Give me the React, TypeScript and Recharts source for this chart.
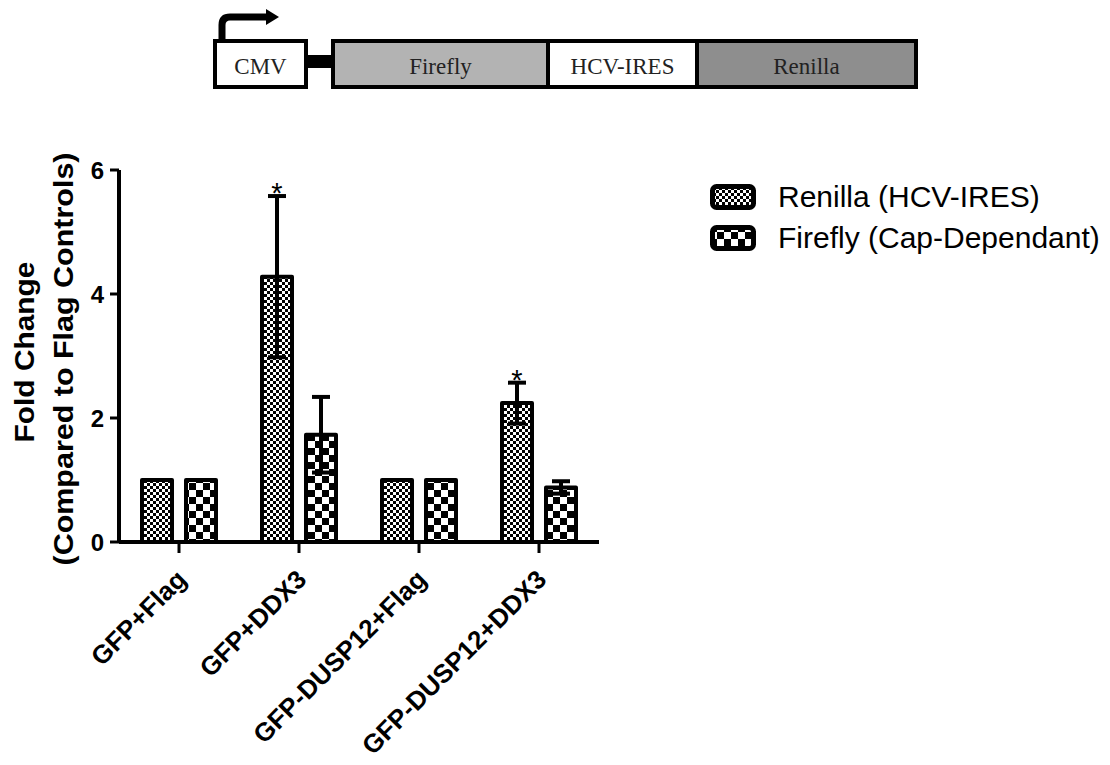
import React from 'react';
import { BarChart, Bar, XAxis, YAxis, ErrorBar, LabelList, Legend } from 'recharts';

const FONT = '"Liberation Sans", Arial, Helvetica, sans-serif';
const SERIF = '"Liberation Serif", "Times New Roman", serif';

// ---- data ----
const categories = ['GFP+Flag', 'GFP+DDX3', 'GFP-DUSP12+Flag', 'GFP-DUSP12+DDX3'];
const renilla = [1, 4.28, 1, 2.24];
const renillaErr = [0, 1.3, 0, 0.33];
const renillaSig = ['', '*', '', '*'];
const firefly = [1, 1.73, 1, 0.88];
const fireflyErr = [0, 0.61, 0, 0.1];
const yTicks = [0, 2, 4, 6];
const seriesNames = ['Renilla (HCV-IRES)', 'Firefly (Cap-Dependant)'];
const constructParts = ['CMV', 'Firefly', 'HCV-IRES', 'Renilla'];

const data = categories.map((name, i) => ({
  name,
  renilla: renilla[i],
  renillaErr: renillaErr[i],
  sig: renillaSig[i],
  firefly: firefly[i],
  fireflyErr: fireflyErr[i],
}));

const series = [
  { key: 'renilla', label: seriesNames[0], pattern: 'finePat' },
  { key: 'firefly', label: seriesNames[1], pattern: 'coarsePat' },
];

const Patterns = () => (
  <svg width={0} height={0} style={{ position: 'absolute' }}>
    <defs>
      <pattern id="finePat" patternUnits="userSpaceOnUse" width={6} height={6}>
        <rect x={0} y={0} width={6} height={6} fill="#fff" />
        <rect x={0} y={0} width={3} height={3} fill="#000" />
        <rect x={3} y={3} width={3} height={3} fill="#000" />
      </pattern>
      <pattern id="coarsePat" patternUnits="userSpaceOnUse" width={14} height={14}>
        <rect x={0} y={0} width={14} height={14} fill="#fff" />
        <rect x={0} y={0} width={7} height={7} fill="#000" />
        <rect x={7} y={7} width={7} height={7} fill="#000" />
      </pattern>
    </defs>
  </svg>
);

const StarLabel = (props: any) => {
  const { x, y, width, height, value, index } = props;
  const d = data[index];
  if (!d || !d.sig || !value) return null;
  const perUnit = Number(height) / Number(value);
  const top = Number(y) - d.renillaErr * perUnit;
  return (
    <text x={Number(x) + Number(width) / 2} y={top + 7} textAnchor="middle" fontSize={29} fontFamily={FONT} fill="#000">
      {d.sig}
    </text>
  );
};

const XTick = (props: any) => {
  const { x, y, payload } = props;
  const ax = x + 9;
  const ay = y + 26;
  return (
    <text x={ax} y={ay} transform={`rotate(-45, ${ax}, ${ay})`} textAnchor="end" fontSize={26} fontWeight="bold" fontFamily={FONT} fill="#000">
      {payload.value}
    </text>
  );
};

const YLabel = (props: any) => {
  const vb = props.viewBox || { x: 59, y: 170, width: 60, height: 372 };
  const cy = vb.y + vb.height / 2;
  const x1 = 34;
  const x2 = 73;
  return (
    <g>
      <text x={x1} y={cy - 4} transform={`rotate(-90, ${x1}, ${cy - 4})`} textAnchor="middle" fontSize={28} fontWeight="bold" fontFamily={FONT} fill="#000" textLength={181} lengthAdjust="spacingAndGlyphs">
        Fold Change
      </text>
      <text x={x2} y={cy + 3} transform={`rotate(-90, ${x2}, ${cy + 3})`} textAnchor="middle" fontSize={28} fontWeight="bold" fontFamily={FONT} fill="#000" textLength={413} lengthAdjust="spacingAndGlyphs">
        (Compared to Flag Controls)
      </text>
    </g>
  );
};

const LegendContent = () => (
  <div style={{ fontFamily: FONT, fontSize: 30, color: '#000' }}>
    {series.map((s) => (
      <div key={s.key} style={{ display: 'flex', alignItems: 'center', height: 41 }}>
        <svg width={46} height={26}>
          <rect x={2.5} y={2.5} width={41} height={21} rx={4} fill={`url(#${s.pattern})`} stroke="#000" strokeWidth={5} />
        </svg>
        <span style={{ marginLeft: 22, lineHeight: 1, whiteSpace: 'nowrap' }}>{s.label}</span>
      </div>
    ))}
  </div>
);

const Construct = () => {
  const boxes = [
    { x: 215, w: 91, fill: '#ffffff' },
    { x: 333, w: 215, fill: '#b3b3b3' },
    { x: 548, w: 149, fill: '#ffffff' },
    { x: 697, w: 219, fill: '#8e8e8e' },
  ];
  return (
    <svg width={1110} height={120} style={{ position: 'absolute', left: 0, top: 0, pointerEvents: 'none' }}>
      <path d="M222,40 V25 Q222,17 230,17 H268" stroke="#000" strokeWidth={7} fill="none" />
      <polygon points="266,9 279,17 266,25" fill="#000" />
      <rect x={306} y={55} width={28} height={13} fill="#000" />
      {boxes.map((b, i) => (
        <g key={i}>
          <rect x={b.x} y={41} width={b.w} height={46} fill={b.fill} stroke="#000" strokeWidth={4} />
          <text x={b.x + b.w / 2} y={74} textAnchor="middle" fontSize={23} fontFamily={SERIF} fill="#222">
            {constructParts[i]}
          </text>
        </g>
      ))}
    </svg>
  );
};

export default function App() {
  return (
    <div style={{ position: 'absolute', left: 0, top: 0, width: 1110, height: 765, background: '#fff' }}>
      <Patterns />
      <BarChart
        width={1110}
        height={765}
        data={data}
        margin={{ top: 170, right: 511, bottom: 193, left: 59 }}
        barSize={30}
        barGap={14}
      >
        <XAxis
          dataKey="name"
          height={30}
          axisLine={{ stroke: '#000', strokeWidth: 4 }}
          tickLine={{ stroke: '#000', strokeWidth: 3 }}
          tickSize={11}
          tickMargin={2}
          tick={<XTick />}
          interval={0}
        />
        <YAxis
          width={60}
          domain={[0, 6]}
          ticks={yTicks}
          axisLine={{ stroke: '#000', strokeWidth: 4 }}
          tickLine={{ stroke: '#000', strokeWidth: 3 }}
          tickSize={9}
          tickMargin={6}
          tick={{ fontSize: 24, fontWeight: 'bold', fill: '#000', fontFamily: FONT }}
          label={{ content: <YLabel /> }}
        />
        <Legend
          layout="vertical"
          align="center"
          verticalAlign="middle"
          content={<LegendContent />}
          wrapperStyle={{ left: 710, top: 176, width: 400, margin: 0, padding: 0 }}
        />
        <Bar dataKey="renilla" name={seriesNames[0]} fill="url(#finePat)" stroke="#000" strokeWidth={4} strokeLinejoin="round" isAnimationActive={false}>
          <ErrorBar dataKey="renillaErr" width={9} stroke="#000" strokeWidth={4} direction="y" />
          <LabelList dataKey="renilla" content={<StarLabel />} />
        </Bar>
        <Bar dataKey="firefly" name={seriesNames[1]} fill="url(#coarsePat)" stroke="#000" strokeWidth={4} strokeLinejoin="round" isAnimationActive={false}>
          <ErrorBar dataKey="fireflyErr" width={9} stroke="#000" strokeWidth={4} direction="y" />
        </Bar>
      </BarChart>
      <Construct />
    </div>
  );
}
